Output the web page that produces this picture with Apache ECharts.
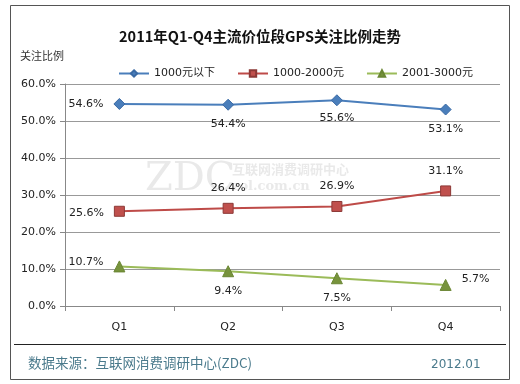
<!DOCTYPE html>
<html><head><meta charset="utf-8">
<script src="https://cdn.jsdelivr.net/npm/echarts@6/dist/echarts.min.js"></script>
<style>html,body{margin:0;padding:0;background:#fff}#c{width:520px;height:384px}</style>
</head><body><div id="c"></div>
<script>
var categories = ['Q1','Q2','Q3','Q4'];
var seriesNames = ['1000元以下','1000-2000元','2001-3000元'];
var low = [54.6, 54.4, 55.6, 53.1];
var mid = [25.6, 26.4, 26.9, 31.1];
var high = [10.7, 9.4, 7.5, 5.7];
var yTicks = [0, 10, 20, 30, 40, 50, 60];

var font = 'DejaVu Sans, Noto Sans CJK SC, sans-serif';
var lblBase = {show:true, color:'#222', fontSize:11, fontFamily:font, formatter:function(p){return p.value.toFixed(1)+'%';}};
function mk(vals, specs){
  return vals.map(function(v,i){
    return {value:v, label:Object.assign({}, specs[i])};
  });
}
var chart = echarts.init(document.getElementById('c'));
chart.setOption({
  animation:false,
  textStyle:{fontFamily:font},
  title:{text:'2011年Q1-Q4主流价位段GPS关注比例走势', left:'center', top:24, textStyle:{fontSize:14.5, fontWeight:'bold', color:'#111', fontFamily:'Noto Sans CJK SC, sans-serif'}},
  legend:{top:63, left:113, itemGap:22, itemWidth:30, itemHeight:8, textStyle:{fontSize:11, color:'#222', fontFamily:font}, data:seriesNames},
  grid:{left:65, right:20, top:84, bottom:78},
  xAxis:{type:'category', data:categories, boundaryGap:true,
    axisLine:{lineStyle:{color:'#888'}}, axisTick:{show:true, length:5, lineStyle:{color:'#888'}},
    axisLabel:{color:'#222', fontSize:11, margin:16, fontFamily:font}},
  yAxis:{type:'value', min:yTicks[0], max:yTicks[yTicks.length-1], interval:10,
    axisLine:{show:true, lineStyle:{color:'#888'}}, axisTick:{show:true, length:5, lineStyle:{color:'#888'}},
    splitLine:{lineStyle:{color:'#999'}},
    axisLabel:{color:'#222', fontSize:11, margin:9, fontFamily:font, formatter:function(v){return v.toFixed(1)+'%';}}},
  graphic:[
    {type:'rect', shape:{x:10.5,y:5.5,width:499,height:374}, style:{fill:'none', stroke:'#555', lineWidth:1}, z:-1},
    {type:'line', shape:{x1:14,y1:344.5,x2:506,y2:344.5}, style:{stroke:'#222', lineWidth:1}},
    {type:'text', left:20, top:50, style:{text:'关注比例', fontSize:11, fill:'#333', fontFamily:'Noto Sans CJK SC, sans-serif'}},
    {type:'text', left:28, top:356, style:{text:'数据来源：互联网消费调研中心(ZDC)', fontSize:13.5, fill:'#4a7a8c', fontFamily:'Noto Sans CJK SC, sans-serif'}},
    {type:'text', left:431, top:359, style:{text:'2012.01', fontSize:12, fill:'#4a7a8c', fontFamily:font}},
    {type:'text', left:145, top:160, style:{text:'ZDC', fontSize:40, fill:'rgba(200,200,200,0.4)', fontFamily:'DejaVu Serif, serif'}, z:-1},
    {type:'text', left:232, top:163, style:{text:'互联网消费调研中心', fontSize:13, fontWeight:'bold', fill:'rgba(200,200,200,0.4)', fontFamily:'Noto Sans CJK SC, sans-serif'}, z:-1},
    {type:'text', left:232, top:180, style:{text:'zol.com.cn', fontSize:13, fontWeight:'bold', fill:'rgba(200,200,200,0.4)', fontFamily:'DejaVu Serif, serif'}, z:-1}
  ],
  series:[
    {name:seriesNames[0], type:'line', data:mk(low,[
        {position:'left', distance:10},
        {position:'bottom', distance:8},
        {position:'bottom', distance:6},
        {position:'bottom', distance:8}]),
      symbol:'diamond', symbolSize:11, lineStyle:{color:'#4a7ebb', width:2}, itemStyle:{color:'#4a7ebb', borderColor:'#3a6aa4', borderWidth:1}, color:'#4a7ebb', label:lblBase},
    {name:seriesNames[1], type:'line', data:mk(mid,[
        {position:'left', distance:10, offset:[0,2]},
        {position:'top', distance:9},
        {position:'top', distance:9},
        {position:'top', distance:9}]),
      symbol:'rect', symbolSize:10, lineStyle:{color:'#be4b48', width:2}, itemStyle:{color:'#c0504d', borderColor:'#8c3836', borderWidth:1}, color:'#c0504d', label:lblBase},
    {name:seriesNames[2], type:'line', data:mk(high,[
        {position:'left', distance:10, offset:[0,-4]},
        {position:'bottom', distance:8},
        {position:'bottom', distance:8},
        {position:'right', distance:10, offset:[0,-6]}]),
      symbol:'triangle', symbolSize:11, lineStyle:{color:'#9bbb59', width:2}, itemStyle:{color:'#77933c', borderColor:'#6a8634', borderWidth:1}, color:'#9bbb59', label:lblBase}
  ]
});
</script></body></html>
